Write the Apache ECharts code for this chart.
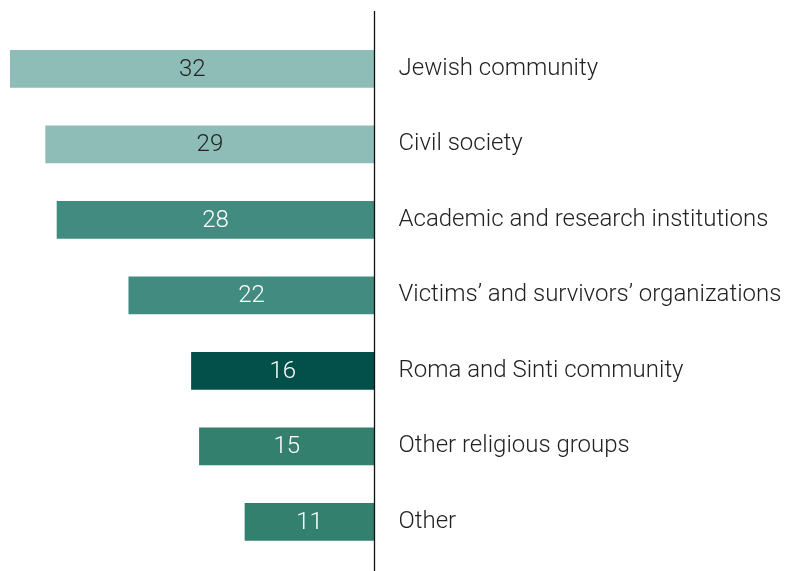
<!DOCTYPE html>
<html><head><meta charset="utf-8">
<script src="https://cdn.jsdelivr.net/npm/echarts@6/dist/echarts.min.js"></script>
<style>html,body{margin:0;padding:0;background:#fff}#c{width:787px;height:571px}</style>
</head><body><div id="c"></div>
<script>
const categories = ["Jewish community","Civil society","Academic and research institutions","Victims\u2019 and survivors\u2019 organizations","Roma and Sinti community","Other religious groups","Other"];
const values = [32.0, 28.9, 27.9, 21.6, 16.1, 15.4, 11.4];
const barColors = ["#8dbdb6","#8dbdb6","#428b81","#428b81","#03504a","#33806f","#33806f"];
const labelColors = ["#222222","#222222","#ffffff","#ffffff","#ffffff","#ffffff","#ffffff"];

const chart = echarts.init(document.getElementById('c'), null, {renderer:'canvas'});
chart.setOption({
  animation:false,
  grid:{left:10,right:412.5,top:31,bottom:11.5,containLabel:false},
  xAxis:{type:'value',inverse:true,min:0,max:32,show:false},
  yAxis:{type:'category',data:categories,inverse:true,position:'right',
    axisLine:{show:false},axisTick:{show:false},
    axisLabel:{margin:24,color:'#222',fontFamily:'Roboto',fontWeight:300,fontSize:24,align:'left'}},
  series:[{type:'bar',barWidth:'50%',
    data:values.map((v,i)=>({value:v,itemStyle:{color:barColors[i]},label:{color:labelColors[i]}})),
    label:{show:true,position:'inside',fontFamily:'Roboto',fontWeight:300,fontSize:24,offset:[0,1],
      formatter:p=>Math.round(p.value)}}],
  graphic:[{type:'line',shape:{x1:374.5,y1:11,x2:374.5,y2:571},style:{stroke:'#111',lineWidth:1.3},z:100}]
});
</script></body></html>
